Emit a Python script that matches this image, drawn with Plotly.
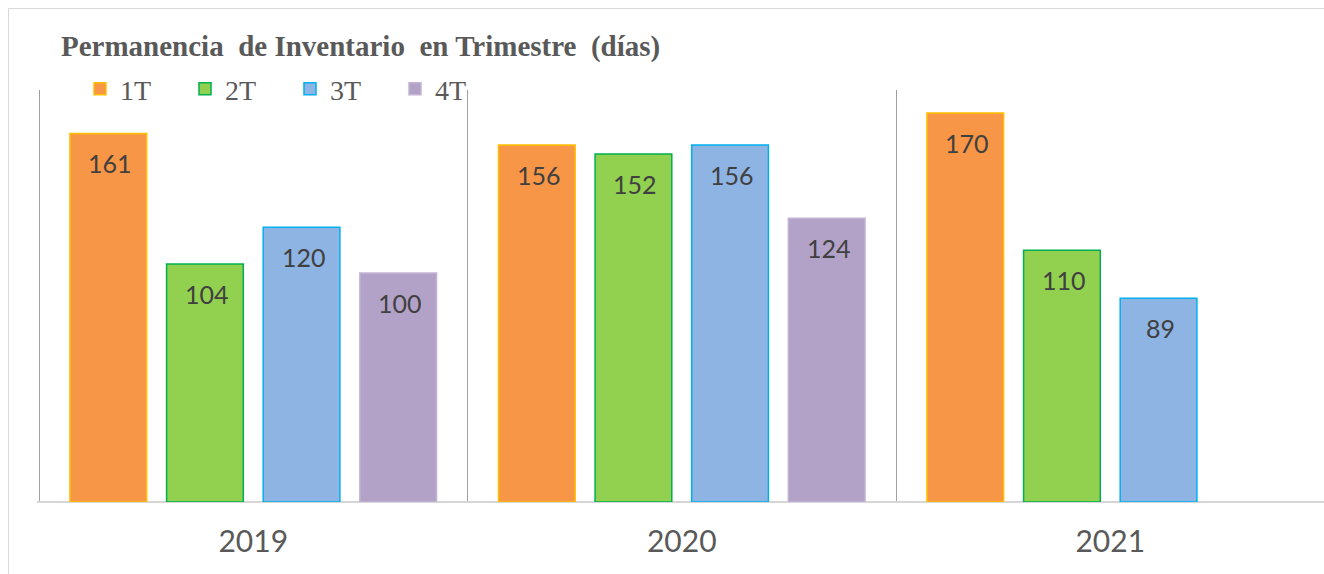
import plotly.graph_objects as go

years = ["2019", "2020", "2021"]
series_names = ["1T", "2T", "3T", "4T"]
v_1T = [161, 156, 170]
v_2T = [104, 152, 110]
v_3T = [120, 156, 89]
v_4T = [100, 124, None]
values = [v_1T, v_2T, v_3T, v_4T]

fills = ["#F79646", "#92D050", "#8EB4E3", "#B3A2C7"]
borders = ["#FFC000", "#00B050", "#00B0F0", "#C3B4D6"]

W, H = 1324, 574
ML, MT, MB, MR = 37, 40, 72, 0
PW, PH = W - ML - MR, H - MT - MB
AXIS_TOP = 90  # pixel row where the value axis ends
y_dom_top = (H - MB - AXIS_TOP) / PH


def px_x(px):
    return (px - ML) / PW


def px_y(py):
    return (H - MB - py) / PH


fig = go.Figure()
for name, vals, fc, bc in zip(series_names, values, fills, borders):
    fig.add_trace(go.Bar(
        x=years, y=vals, name=name,
        marker=dict(color=fc, line=dict(color=bc, width=1.5)),
    ))

# data labels
bargap = 0.098
groupgap = 0.206
cat_px = 428.5
slot = cat_px * (1 - bargap) / 4
annotations = []
for i, vals in enumerate(values):
    for j, v in enumerate(vals):
        if v is None:
            continue
        annotations.append(dict(
            x=j, y=v, xref="x", yref="y", text=str(v), showarrow=False,
            xshift=(i - 1.5) * slot + 2, yshift=-30, yanchor="middle",
            xanchor="center",
            font=dict(family="Lato", size=25, color="#404040"),
        ))

annotations.append(dict(
    xref="paper", yref="paper", x=px_x(59), y=px_y(46),
    xanchor="left", yanchor="middle", showarrow=False,
    text="<b>Permanencia\u00a0 de Inventario\u00a0 en Trimestre\u00a0 (días)</b>",
    font=dict(family="Liberation Serif", size=29, color="#595959"),
))

shapes = [dict(
    type="rect", xref="paper", yref="paper",
    x0=px_x(8.5), x1=px_x(W + 10),
    y0=px_y(H + 10), y1=px_y(8.5),
    line=dict(color="#D9D9D9", width=1), fillcolor="rgba(0,0,0,0)", layer="below",
)]

# x range: start 2px before the first category boundary so its separator shows
x_lo = -0.5 - 2 / cat_px
x_hi = x_lo + PW / cat_px

fig.update_layout(
    width=W, height=H,
    margin=dict(l=ML, r=MR, t=MT, b=MB),
    paper_bgcolor="white", plot_bgcolor="white",
    barmode="group", bargap=bargap, bargroupgap=groupgap,
    showlegend=True,
    legend=dict(
        orientation="h", xref="paper", yref="paper",
        x=px_x(80), y=px_y(89), xanchor="left", yanchor="middle",
        font=dict(family="Liberation Serif", size=28, color="#595959"),
        entrywidth=60, itemclick=False, bgcolor="rgba(0,0,0,0)",
    ),
    annotations=annotations, shapes=shapes,
    xaxis=dict(
        type="category", tickson="boundaries", showgrid=True,
        gridcolor="#A0A0A0", gridwidth=1,
        showline=False,
        ticks="", ticklabelstandoff=19,
        tickfont=dict(family="Lato", size=30, color="#595959"),
        range=[x_lo, x_hi],
        zeroline=False, automargin=False,
    ),
    yaxis=dict(
        range=[0, 180], domain=[0, y_dom_top], showgrid=False, showticklabels=False,
        zeroline=True, zerolinecolor="#D6D6D6", zerolinewidth=1.5,
        showline=False, ticks="",
    ),
)

fig.write_html("out.html", config={"displayModeBar": False},
               post_script="document.body.style.margin='0px';")
